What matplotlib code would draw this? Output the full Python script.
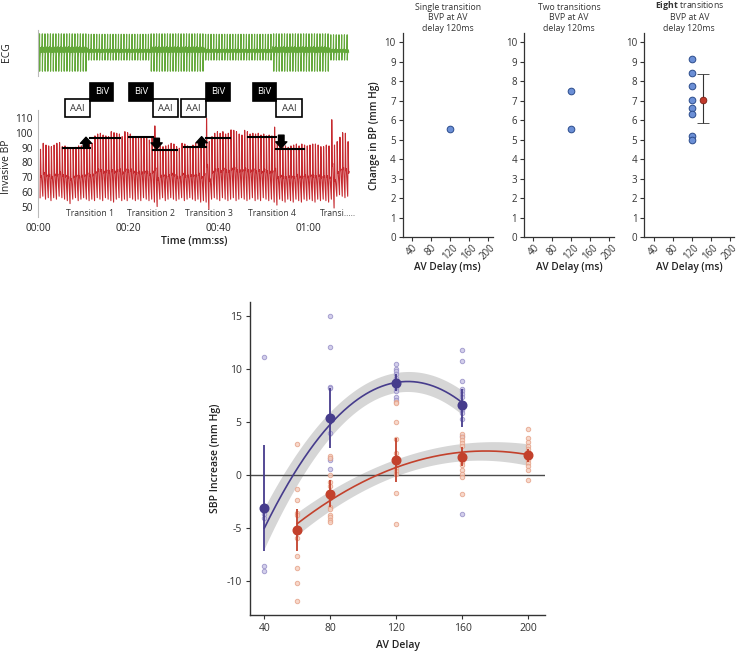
import numpy as np
import matplotlib
matplotlib.use('Agg')
import matplotlib.pyplot as plt
from matplotlib.patches import Rectangle

plt.rcParams['font.family'] = ['Open Sans', 'DejaVu Sans']
plt.rcParams['mathtext.fontset'] = 'custom'
plt.rcParams['mathtext.rm'] = 'Open Sans'
plt.rcParams['mathtext.bf'] = 'Open Sans:bold'
plt.rcParams['axes.unicode_minus'] = False

# ---------------- data: top-left traces ----------------
beat_sys = [88.9, 93.0, 91.8, 91.2, 90.7, 91.8, 93.0, 93.5, 90.7, 91.2, 90.3, 89.6, 89.9, 90.3, 91.2, 91.2, 90.7, 94.8, 93.0, 93.0,
            98.0, 99.3, 99.8, 98.6, 98.0, 97.5, 100.9, 100.2, 99.8, 99.3, 97.5, 100.9, 100.2, 99.3, 97.5, 97.1, 97.1, 97.5, 96.4, 97.1, 95.2, 97.5,
            104.8,
            93.0, 91.2, 90.7, 91.2, 91.8, 93.0, 92.5, 90.7, 89.6, 93.0, 92.5, 91.2, 90.7, 91.8, 93.0, 94.1, 91.8,
            95.2, 110.0,
            94.1, 97.5, 99.8, 100.9, 99.8, 100.9, 99.3, 99.8, 102.1, 101.8, 100.9, 99.3, 98.6, 101.8, 100.9, 99.3, 99.8, 99.3, 99.8, 98.6, 99.3, 98.0, 98.6, 98.0,
            104.0,
            94.1, 91.2, 90.7, 91.2, 90.3, 91.2, 91.8, 92.5, 91.2, 92.5, 91.8, 91.2, 91.8, 92.5, 92.5, 91.8, 90.7, 90.7, 91.8, 91.2,
            109.0,
            91.8, 94.1, 97.1, 100.2, 99.8, 94.1]
beat_dia = [56, 57, 55, 56, 54, 56, 55, 57, 56, 55,
            54, 52, 55, 56, 54, 55, 56, 55, 54, 55,
            54, 56, 55, 54, 56, 55, 54, 53, 55, 56,
            54, 55, 54, 56, 55, 54, 55, 54, 56, 55,
            54, 55, 53, 50, 55, 56, 54, 55, 56, 55,
            54, 55, 56, 54, 55, 56, 55, 54, 55, 53,
            54, 53, 48, 55, 56, 55, 54, 56, 55, 54,
            55, 56, 54, 55, 56, 55, 54, 55, 56, 54,
            55, 54, 56, 55, 54, 55, 53, 51, 55, 54,
            53, 55, 54, 53, 55, 54, 53, 55, 54, 55,
            54, 53, 55, 54, 55, 54, 53, 55, 49, 57,
            58, 57, 56, 57]
beat_period = 0.605
first_beat = 0.4

ecg_seg_end = [11.0, 24.6, 36.6, 52.1, 64.6, 70.0]
ecg_seg_down = [-1.0, -0.42, -1.0, -0.42, -1.0, -0.42]
ecg_seg_band = [0.28, 0.15, 0.28, 0.15, 0.28, 0.15]
ecg_up = [0.95, 0.93, 0.95, 0.93, 0.95, 0.9]

trans_time = [11.5, 25.4, 37.3, 52.9]
trans_dir = ['up', 'down', 'up', 'down']
trans_label_time = [11.6, 25.0, 37.9, 52.0, 66.6]
trans_labels = ['Transition 1', 'Transition 2', 'Transition 3', 'Transition 4', 'Transi.....']
pre_line_start = [5.6, 20.2, 32.4, 46.7]
pre_line_level = [89.8, 97.1, 90.7, 97.5]
post_line_end = [18.2, 30.8, 42.6, 59.0]
post_line_level = [96.8, 88.6, 96.8, 89.2]
arrow_time = [10.6, 26.3, 36.3, 54.0]
arrow_from = [90.5, 96.4, 91.4, 98.5]
arrow_to = [97.1, 89.1, 97.5, 89.8]
time_ticks = [0, 20, 40, 60]
time_ticklabels = ['00:00', '00:20', '00:40', '01:00']
bp_ticks = [50, 60, 70, 80, 90, 100, 110]

# ---------------- data: top-right panels ----------------
panel_titles = ['Single transition\nBVP at AV\ndelay 120ms',
                'Two transitions\nBVP at AV\ndelay 120ms',
                '$\\mathbf{Eight}$ transitions\nBVP at AV\ndelay 120ms']
p1_x = [120]
p1_y = [5.55]
p2_x = [120, 120]
p2_y = [7.5, 5.55]
p3_x = [120, 120, 120, 120, 120, 120, 120, 120]
p3_y = [9.15, 8.4, 7.75, 7.05, 6.65, 6.3, 5.2, 4.98]
p3_mean_x = [143]
p3_mean = [7.05]
p3_lo = [5.88]
p3_hi = [8.35]
av_ticks = [40, 80, 120, 160, 200]

# ---------------- data: bottom chart ----------------
purple_40 = [11.1, -3.7, -4.1, -8.6, -9.1]
purple_80 = [15.0, 12.1, 8.3, 8.2, 4.0, 1.6, 1.45, 0.6]
purple_120 = [10.5, 10.0, 9.8, 9.5, 9.1, 8.5, 8.2, 7.9, 7.3, 7.1]
purple_160 = [11.8, 10.7, 8.9, 8.1, 7.9, 7.6, 7.3, 6.8, 6.1, 5.8, 5.3, 3.7, -3.7]
red_60 = [2.9, -1.3, -2.4, -3.6, -3.8, -5.9, -7.6, -8.8, -10.2, -11.9]
red_80 = [1.8, 1.6, 0.0, -0.7, -1.0, -2.2, -3.0, -3.2, -3.8, -4.0, -4.2, -4.4]
red_120 = [6.9, 6.8, 5.0, 3.4, 2.1, 0.7, 0.4, 0.1, -1.7, -4.6]
red_160 = [3.9, 3.6, 3.3, 3.0, 2.7, 1.2, 0.9, 0.5, 0.1, -0.2, -1.8]
red_200 = [4.3, 3.5, 3.1, 2.7, 2.4, 1.7, 1.4, 1.1, 0.8, 0.5, -0.45]

purple_mean_x = [40, 80, 120, 160]
purple_mean = [-3.1, 5.4, 8.7, 6.6]
purple_lo = [-7.2, 2.5, 7.9, 4.5]
purple_hi = [2.8, 8.2, 9.5, 8.1]
red_mean_x = [60, 80, 120, 160, 200]
red_mean = [-5.2, -1.75, 1.4, 1.7, 1.9]
red_lo = [-7.2, -3.0, -0.65, 0.8, 1.2]
red_hi = [-3.2, -0.5, 3.45, 2.6, 2.4]

purple_fit_x = [40, 60, 80, 100, 120, 140, 160]
purple_fit_y = [-5.0, 0.6, 4.8, 7.5, 8.7, 8.5, 6.8]
purple_fit_hw = [2.0, 1.4, 1.15, 1.0, 1.05, 1.0, 1.1]
red_fit_x = [60, 80, 100, 120, 140, 160, 180, 200]
red_fit_y = [-4.6, -2.4, -0.6, 0.75, 1.65, 2.1, 2.2, 1.95]
red_fit_hw = [1.1, 0.9, 0.8, 0.8, 0.8, 0.85, 0.9, 1.0]

# ---------------- figure ----------------
W, H = 739, 652
fig = plt.figure(figsize=(W / 100, H / 100), dpi=100)


def add_ax(l, t, r, b):
    return fig.add_axes([l / W, 1 - b / H, (r - l) / W, (b - t) / H])


TXT = '#222222'
GRN = '#64a83a'
BPRED = '#c62a2f'

# ---- ECG ----
ax_e = add_ax(38.3, 30, 351, 76)
tb = first_beat + beat_period * np.arange(len(beat_sys))
ex, ey = [], []
for i in range(len(tb)):
    t = tb[i] - 0.12
    s = int(np.searchsorted(ecg_seg_end, t))
    d = ecg_seg_down[s]
    b = ecg_seg_band[s]
    u = ecg_up[s]
    ex += [t - 0.2, t - 0.14, t - 0.08, t, t + 0.03, t + 0.07, t + 0.2, t + 0.33]
    ey += [0, b, 0, u, d, -b, b * 0.8, 0]
ax_e.plot(ex, ey, color=GRN, lw=0.8)
ax_e.set_xlim(0, 69.5)
ax_e.set_ylim(-1.25, 1.15)
for sp in ['top', 'right', 'bottom']:
    ax_e.spines[sp].set_visible(False)
ax_e.spines['left'].set_color('#bbbbbb')
ax_e.spines['left'].set_linewidth(0.8)
ax_e.set_xticks([])
ax_e.set_yticks([])
fig.text(7 / W, 1 - 52 / H, 'ECG', rotation=90, ha='center', va='center', fontsize=7.5, color=TXT)

# ---- Invasive BP ----
ax_b = add_ax(38.3, 110, 351, 217)
bx, by = [], []
for i in range(len(tb)):
    s, d = beat_sys[i], beat_dia[i]
    bx += [tb[i], tb[i] + 0.09, tb[i] + 0.22, tb[i] + 0.3]
    by += [d, s, d + 0.42 * (s - d), d + 0.45 * (s - d)]
ax_b.plot(bx, by, color=BPRED, lw=0.8)
ax_b.set_xlim(0, 69.5)
ax_b.set_ylim(42.9, 115.6)
for sp in ['top', 'right', 'bottom']:
    ax_b.spines[sp].set_visible(False)
ax_b.spines['left'].set_color('#bbbbbb')
ax_b.spines['left'].set_linewidth(0.8)
ax_b.set_yticks(bp_ticks)
ax_b.set_xticks(time_ticks)
ax_b.set_xticklabels(time_ticklabels)
ax_b.tick_params(axis='both', length=0, labelsize=7.3, colors=TXT)
ax_b.tick_params(axis='y', pad=4)
ax_b.tick_params(axis='x', pad=4)
ax_b.set_xlabel('Time (mm:ss)', fontsize=7.5, color=TXT, labelpad=2, fontweight='semibold')
fig.text(7 / W, 1 - 167 / H, 'Invasive BP', rotation=90, ha='center', va='center', fontsize=7.5, color=TXT)

for i in range(4):
    T = trans_time[i]
    ax_b.plot([pre_line_start[i], T], [pre_line_level[i]] * 2, color='black', lw=1.5, zorder=4)
    ax_b.plot([T, post_line_end[i]], [post_line_level[i]] * 2, color='black', lw=1.5, zorder=4)
    ax_b.annotate('', xy=(arrow_time[i], arrow_to[i]), xytext=(arrow_time[i], arrow_from[i]),
                  arrowprops=dict(arrowstyle='simple,head_length=0.55,head_width=1.0,tail_width=0.5',
                                  color='black', mutation_scale=8, shrinkA=0, shrinkB=0), zorder=5)
    aai_w, biv_w = 5.6, 5.2
    if trans_dir[i] == 'up':
        aai_x, biv_x = T - aai_w, T
    else:
        biv_x, aai_x = T - biv_w, T
    ax_b.add_patch(Rectangle((aai_x, 110.8), aai_w, 12.3, facecolor='white', edgecolor='black',
                             lw=1.2, clip_on=False, zorder=6))
    ax_b.text(aai_x + aai_w / 2, 116.9, 'AAI', ha='center', va='center', fontsize=6.8, color='#333333',
              clip_on=False, zorder=7)
    ax_b.add_patch(Rectangle((biv_x, 121.7), biv_w, 12.3, facecolor='black', edgecolor='black',
                             lw=1.2, clip_on=False, zorder=6))
    ax_b.text(biv_x + biv_w / 2, 127.9, 'BiV', ha='center', va='center', fontsize=6.8, color='white',
              clip_on=False, zorder=7)

for t, lab in zip(trans_label_time, trans_labels):
    ax_b.text(t, 45.6, lab, ha='center', va='center', fontsize=6.2, color='#333333', zorder=7)

# ---- top-right panels ----
DOT_FC = '#6b8fd6'
DOT_EC = '#2b4c8c'
panel_px = [(402.7, 492.7), (524, 614), (644.3, 734.3)]
panel_data = [(p1_x, p1_y), (p2_x, p2_y), (p3_x, p3_y)]
for k in range(3):
    l, r = panel_px[k]
    ax = add_ax(l, 33.3, r, 237.3)
    px_, py_ = panel_data[k]
    ax.plot(px_, py_, 'o', ms=4.8, mfc=DOT_FC, mec=DOT_EC, mew=0.7, zorder=3)
    if k == 2:
        ax.errorbar(p3_mean_x, p3_mean,
                    yerr=[[p3_mean[0] - p3_lo[0]], [p3_hi[0] - p3_mean[0]]],
                    fmt='o', ms=4.8, mfc='#c0392b', mec='#7a1f14', mew=0.6,
                    ecolor='#333333', elinewidth=0.8, capsize=4, capthick=0.8, zorder=3)
    ax.set_xlim(20, 210)
    ax.set_ylim(0, 10.46)
    ax.set_yticks(range(0, 11))
    ax.set_xticks(av_ticks)
    ax.set_xticklabels([str(v) for v in av_ticks], rotation=45, ha='center')
    for sp in ['top', 'right']:
        ax.spines[sp].set_visible(False)
    for sp in ['left', 'bottom']:
        ax.spines[sp].set_color('#333333')
        ax.spines[sp].set_linewidth(0.9)
    ax.tick_params(axis='both', length=3, width=0.8, labelsize=7, colors='#333333', pad=2)
    ax.tick_params(axis='x', pad=1)
    ax.set_title(panel_titles[k], fontsize=6.3, color='#333333', pad=2, linespacing=1.2)
    ax.set_xlabel('AV Delay (ms)', fontsize=7.3, color=TXT, labelpad=0, fontweight='semibold')
    if k == 0:
        ax.set_ylabel('Change in BP (mm Hg)', fontsize=7.3, color=TXT, labelpad=3, fontweight='semibold')

# ---- bottom chart ----
PUR = '#463c8c'
RED = '#c3412c'
axm = add_ax(250, 302, 545, 615)
axm.set_xlim(31.3, 210)
axm.set_ylim(-13.2, 16.3)

# fitted curves with confidence bands (smoothed through read-off values)
for fx, fy, fh, col in [(purple_fit_x, purple_fit_y, purple_fit_hw, PUR),
                        (red_fit_x, red_fit_y, red_fit_hw, RED)]:
    xx = np.linspace(fx[0], fx[-1], 200)
    yy = np.polyval(np.polyfit(fx, fy, 2), xx)
    hh = np.polyval(np.polyfit(fx, fh, 2), xx)
    axm.fill_between(xx, yy - hh, yy + hh, color='#d6d6d6', lw=0, zorder=1)
    axm.plot(xx, yy, color=col, lw=1.2, zorder=4)

axm.axhline(0, color='#4a4a4a', lw=1.0, zorder=2)

for xv, vals in [(40, purple_40), (80, purple_80), (120, purple_120), (160, purple_160)]:
    axm.plot([xv] * len(vals), vals, 'o', ms=3.2, mfc='#c9c4e6', mec='#958dc6', mew=0.7, alpha=0.8, zorder=3)
for xv, vals in [(60, red_60), (80, red_80), (120, red_120), (160, red_160), (200, red_200)]:
    axm.plot([xv] * len(vals), vals, 'o', ms=3.2, mfc='#f6cfbf', mec='#e5a086', mew=0.7, alpha=0.8, zorder=3)

pm = np.array(purple_mean)
axm.errorbar(purple_mean_x, pm, yerr=[pm - np.array(purple_lo), np.array(purple_hi) - pm],
             fmt='o', ms=6.2, color=PUR, ecolor=PUR, elinewidth=1.3, capsize=0, zorder=5)
rm = np.array(red_mean)
axm.errorbar(red_mean_x, rm, yerr=[rm - np.array(red_lo), np.array(red_hi) - rm],
             fmt='o', ms=6.2, color=RED, ecolor=RED, elinewidth=1.3, capsize=0, zorder=5)

axm.set_xticks(av_ticks)
axm.set_yticks([-10, -5, 0, 5, 10, 15])
for sp in ['top', 'right']:
    axm.spines[sp].set_visible(False)
for sp in ['left', 'bottom']:
    axm.spines[sp].set_color('#333333')
    axm.spines[sp].set_linewidth(1.0)
axm.tick_params(axis='both', length=3, width=0.8, labelsize=7.5, colors='#333333', pad=3)
axm.set_xlabel('AV Delay', fontsize=7.5, color=TXT, labelpad=4, fontweight='semibold')
axm.set_ylabel('SBP Increase (mm Hg)', fontsize=7.5, color=TXT, labelpad=4, fontweight='semibold')

fig.savefig('out.png', dpi=100)
